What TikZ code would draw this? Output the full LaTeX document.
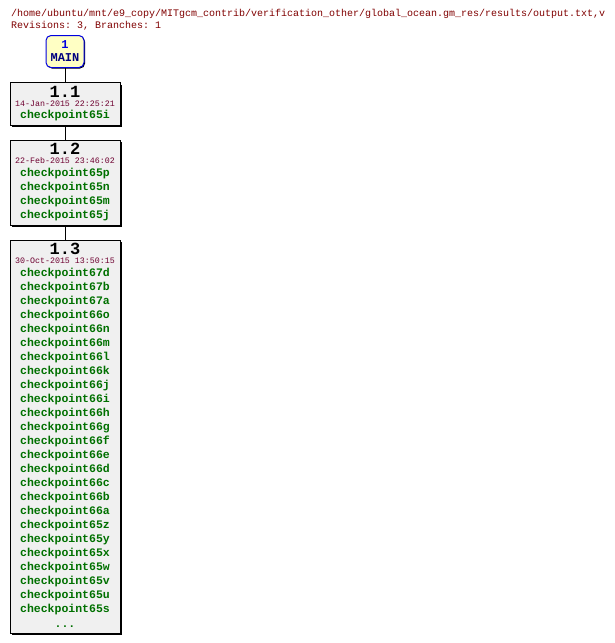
\documentclass[tikz,border=0pt]{standalone}
\usepackage{fontspec}
\setmonofont{Liberation Mono}
\usetikzlibrary{shadows}

\definecolor{pathred}{HTML}{800000}
\definecolor{datered}{HTML}{6E0030}
\definecolor{taggreen}{HTML}{007000}
\definecolor{revfill}{HTML}{F0F0F0}
\definecolor{branchfill}{HTML}{FFFFC4}
\definecolor{branchblue}{HTML}{0000E0}
\definecolor{branchnavy}{HTML}{000080}

\tikzset{
    rev/.style={draw,line width=1pt,fill=revfill,inner sep=0pt,minimum width=110pt,
        drop shadow={shadow xshift=2pt,shadow yshift=-2pt,fill=black,opacity=1}},
    branch/.style={draw=branchblue,line width=1pt,fill=branchfill,rounded corners=5pt,
        inner sep=0pt,minimum width=38pt,minimum height=32pt,align=center,
        font=\ttfamily\bfseries\fontsize{12}{13}\selectfont,
        drop shadow={shadow xshift=1pt,shadow yshift=-1pt,fill=black,opacity=1}},
    ver/.style={anchor=base,inner sep=0pt,font=\ttfamily\bfseries\fontsize{17}{17}\selectfont},
    stamp/.style={anchor=base,inner sep=0pt,text=datered,font=\ttfamily\fontsize{8.3}{9}\selectfont},
    tag/.style={anchor=base,inner sep=0pt,text=taggreen,font=\ttfamily\bfseries\fontsize{11.5}{14}\selectfont},
    head/.style={anchor=base west,inner sep=0pt,text=pathred,font=\ttfamily\fontsize{10}{12}\selectfont}
}

\begin{document}
\begin{tikzpicture}[x=1pt,y=-1pt]
    \fill[white] (0,0) rectangle (614,643);
    \useasboundingbox (0,0) rectangle (614,643);

    % header
    \node[head] (file) at (11,16.7) {/home/ubuntu/mnt/e9\_copy/MITgcm\_contrib/verification\_other/global\_ocean.gm\_res/results/output.txt,v};
    \node[head] (revs) at (11,28.5) {Revisions: 3, Branches: 1};

    % branch and revision boxes
    \node[branch] (main) at (65,51.5) {\textcolor{branchblue}{1}\\\textcolor{branchnavy}{MAIN}};
    \node[rev,minimum height=42.5pt] (r11) at (65,103.75) {};
    \node[rev,minimum height=85pt] (r12) at (65,182.5) {};
    \node[rev,minimum height=393pt] (r13) at (65,436.5) {};

    \draw[line width=1pt] (main.south) -- (r11.north);
    \draw[line width=1pt] (r11.south) -- (r12.north);
    \draw[line width=1pt] (r12.south) -- (r13.north);

    % 1.1
    \node[ver] (r11v) at (65,97) {1.1};
    \node[stamp] (r11d) at (65,106.3) {14-Jan-2015 22:25:21};
    \node[tag] (r11t) at (65,118.5) {checkpoint65i};

    % 1.2
    \node[ver] (r12v) at (65,154.5) {1.2};
    \node[stamp] (r12d) at (65,163.8) {22-Feb-2015 23:46:02};
    \foreach \t [count=\i from 0] in {checkpoint65p,checkpoint65n,checkpoint65m,checkpoint65j}
        \node[tag] (r12t\i) at (65,176+14*\i) {\t};

    % 1.3
    \node[ver] (r13v) at (65,254.5) {1.3};
    \node[stamp] (r13d) at (65,263.8) {30-Oct-2015 13:50:15};
    \foreach \t [count=\i from 0] in {checkpoint67d,checkpoint67b,checkpoint67a,checkpoint66o,
        checkpoint66n,checkpoint66m,checkpoint66l,checkpoint66k,checkpoint66j,checkpoint66i,
        checkpoint66h,checkpoint66g,checkpoint66f,checkpoint66e,checkpoint66d,checkpoint66c,
        checkpoint66b,checkpoint66a,checkpoint65z,checkpoint65y,checkpoint65x,checkpoint65w,
        checkpoint65v,checkpoint65u,checkpoint65s}
        \node[tag] (r13t\i) at (65,276+14*\i) {\t};
    \node[tag] (r13more) at (65,627) {...};
\end{tikzpicture}
\end{document}
